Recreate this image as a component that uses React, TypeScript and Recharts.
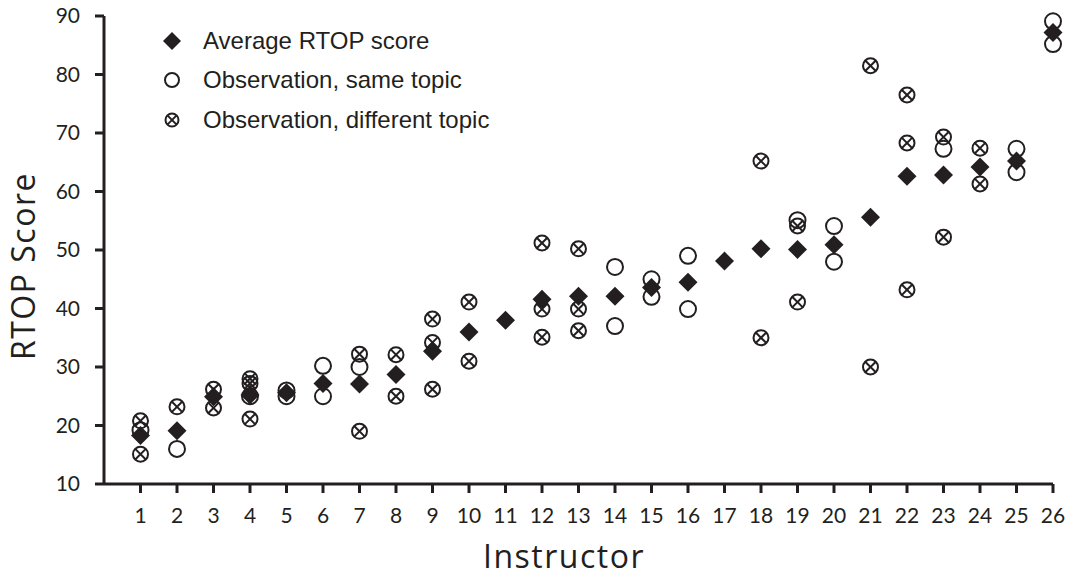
import React from "react";
import {
  ScatterChart,
  Scatter,
  XAxis,
  YAxis,
  Legend,
  Label,
} from "recharts";

const INK = "#231f20";

const INSTRUCTORS = [
  1, 2, 3, 4, 5, 6, 7, 8, 9, 10, 11, 12, 13, 14, 15, 16, 17, 18, 19, 20, 21,
  22, 23, 24, 25, 26,
];
const AVG_SCORE = [
  18.3, 19.1, 24.9, 25.2, 25.6, 27.2, 27.1, 28.7, 32.7, 36.0, 38.0, 41.6, 42.1,
  42.1, 43.6, 44.5, 48.1, 50.2, 50.1, 50.9, 55.6, 62.6, 62.8, 64.2, 65.2, 87.2,
];

const SAME_TOPIC_INSTR = [
  1, 2, 4, 5, 5, 6, 6, 7, 14, 14, 15, 15, 16, 16, 19, 20, 20, 23, 25, 25, 26,
  26,
];
const SAME_TOPIC_SCORE = [
  19.2, 16, 25, 26, 25, 30.2, 25, 30, 47.1, 37, 45, 42, 49, 39.9, 55.1, 54.1,
  48, 67.3, 67.3, 63.3, 89.1, 85.2,
];

const DIFF_TOPIC_INSTR = [
  1, 1, 2, 3, 3, 4, 4, 4, 7, 7, 8, 8, 9, 9, 9, 10, 10, 12, 12, 12, 13, 13, 13,
  18, 18, 19, 19, 21, 21, 22, 22, 22, 23, 23, 24, 24,
];
const DIFF_TOPIC_SCORE = [
  20.8, 15.1, 23.2, 26.2, 23, 28, 27.2, 21.1, 32.2, 19, 32.1, 25, 38.2, 34.2,
  26.2, 41.1, 31, 51.2, 39.9, 35.1, 50.2, 39.9, 36.2, 65.2, 35, 54.1, 41.1,
  81.5, 30, 76.5, 68.3, 43.2, 69.3, 52.2, 67.4, 61.3,
];

const Y_TICKS = [10, 20, 30, 40, 50, 60, 70, 80, 90];

const avgData = INSTRUCTORS.map((x, i) => ({ x, y: AVG_SCORE[i] }));
const sameData = SAME_TOPIC_INSTR.map((x, i) => ({ x, y: SAME_TOPIC_SCORE[i] }));
const diffData = DIFF_TOPIC_INSTR.map((x, i) => ({ x, y: DIFF_TOPIC_SCORE[i] }));

// marker shapes
const Diamond = ({ cx, cy, r = 9.5 }: any) => (
  <path
    d={`M${cx},${cy - r}L${cx + r},${cy}L${cx},${cy + r}L${cx - r},${cy}Z`}
    fill={INK}
  />
);

const OpenCircle = ({ cx, cy, r = 8 }: any) => (
  <circle cx={cx} cy={cy} r={r} fill="none" stroke={INK} strokeWidth={2} />
);

const CrossCircle = ({ cx, cy, r = 7.5 }: any) => {
  const d = r * 0.7071;
  return (
    <g stroke={INK} strokeWidth={2} fill="none">
      <circle cx={cx} cy={cy} r={r} />
      <line x1={cx - d} y1={cy - d} x2={cx + d} y2={cy + d} />
      <line x1={cx - d} y1={cy + d} x2={cx + d} y2={cy - d} />
    </g>
  );
};

const LEGEND_ROWS = [
  { label: "Average RTOP score", Shape: Diamond, r: 9 },
  { label: "Observation, same topic", Shape: OpenCircle, r: 7 },
  { label: "Observation, different topic", Shape: CrossCircle, r: 6.5 },
];

const renderLegend = () => (
  <div style={{ fontFamily: "'Liberation Sans', Arial, sans-serif", fontSize: 24, color: INK }}>
    {LEGEND_ROWS.map(({ label, Shape, r }) => (
      <div key={label} style={{ display: "flex", alignItems: "center", height: 39.5 }}>
        <svg width={24} height={24} style={{ marginRight: 19 }}>
          <Shape cx={12} cy={12} r={r} />
        </svg>
        <span>{label}</span>
      </div>
    ))}
  </div>
);

const tickStyle = { fill: INK, fontSize: 21, fontFamily: "Lato, sans-serif" };

export default function App() {
  return (
    <div style={{ position: "absolute", left: 0, top: 0, background: "#fff" }}>
      <ScatterChart
        width={1068}
        height={576}
        margin={{ top: 16, right: 15, bottom: 0, left: 0 }}
      >
        <XAxis
          type="number"
          dataKey="x"
          domain={[0, 26]}
          ticks={INSTRUCTORS}
          interval={0}
          height={92}
          tickSize={9}
          tickMargin={15}
          axisLine={{ stroke: INK, strokeWidth: 3 }}
          tickLine={{ stroke: INK, strokeWidth: 3 }}
          tick={tickStyle}
        >
          <Label
            content={() => (
              <text
                x={564}
                y={568}
                textAnchor="middle"
                fill={INK}
                fontSize={32}
                letterSpacing={1.5}
                fontFamily="'Open Sans', sans-serif"
              >
                Instructor
              </text>
            )}
          />
        </XAxis>
        <YAxis
          type="number"
          dataKey="y"
          domain={[10, 90]}
          ticks={Y_TICKS}
          interval={0}
          width={104}
          tickSize={9}
          tickMargin={15}
          axisLine={{ stroke: INK, strokeWidth: 3 }}
          tickLine={{ stroke: INK, strokeWidth: 3 }}
          tick={tickStyle}
        >
          <Label
            content={() => (
              <text
                x={35}
                y={266}
                transform="rotate(-90 35 266)"
                textAnchor="middle"
                fill={INK}
                fontSize={32}
                letterSpacing={1.5}
                fontFamily="'Open Sans', sans-serif"
              >
                RTOP Score
              </text>
            )}
          />
        </YAxis>
        <Legend
          layout="vertical"
          align="center"
          verticalAlign="middle"
          content={renderLegend}
          wrapperStyle={{ left: 160, top: 21, width: "auto", height: "auto" }}
        />
        <Scatter
          name="Observation, same topic"
          data={sameData}
          shape={(p: any) => <OpenCircle cx={p.cx} cy={p.cy} />}
          isAnimationActive={false}
        />
        <Scatter
          name="Observation, different topic"
          data={diffData}
          shape={(p: any) => <CrossCircle cx={p.cx} cy={p.cy} />}
          isAnimationActive={false}
        />
        <Scatter
          name="Average RTOP score"
          data={avgData}
          shape={(p: any) => <Diamond cx={p.cx} cy={p.cy} />}
          isAnimationActive={false}
        />
      </ScatterChart>
    </div>
  );
}
